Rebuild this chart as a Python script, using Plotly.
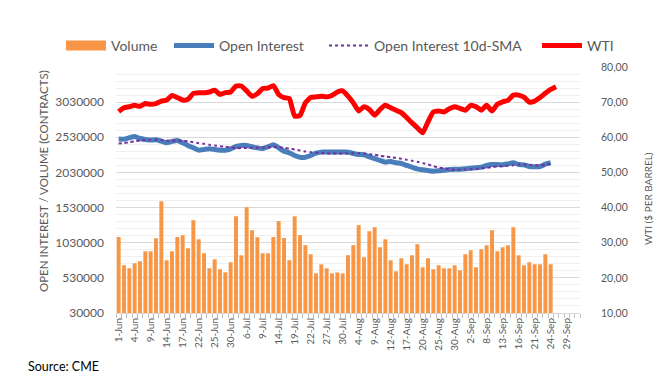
import plotly.graph_objects as go

# Trading days (category axis)
jun = [1, 2, 3, 4, 7, 8, 9, 10, 11, 14, 15, 16, 17, 18, 21, 22, 23, 24, 25, 28, 29, 30]
jul = [1, 2, 6, 7, 8, 9, 12, 13, 14, 15, 16, 19, 20, 21, 22, 23, 26, 27, 28, 29, 30]
aug = [2, 3, 4, 5, 6, 9, 10, 11, 12, 13, 16, 17, 18, 19, 20, 23, 24, 25, 26, 27, 30, 31]
sep = [1, 2, 3, 7, 8, 9, 10, 13, 14, 15, 16, 17, 20, 21, 22, 23, 24, 27, 28, 29, 30]
octo = [1]
dates = ([f"{d}-Jun" for d in jun] + [f"{d}-Jul" for d in jul] + [f"{d}-Aug" for d in aug]
         + [f"{d}-Sep" for d in sep] + [f"{d}-Oct" for d in octo])

volume_k = [1112, 709, 666, 737, 766, 908, 908, 1093, 1620, 780, 908, 1112, 1136, 951, 1350,
            1079, 880, 666, 794, 652, 609, 752, 1407, 851, 1535, 1207, 1108, 880, 880, 1110,
            1338, 1097, 781, 1406, 1138, 995, 865, 594, 722, 667, 594, 607, 594, 852, 995,
            1280, 823, 1193, 1250, 965, 1079, 780, 623, 809, 723, 851, 1008, 680, 809, 652,
            709, 666, 666, 709, 638, 866, 923, 680, 937, 994, 1207, 908, 965, 994, 1250,
            851, 709, 752, 723, 723, 866, 723]

open_interest_k = [2504, 2504, 2523, 2542, 2513, 2499, 2490, 2494, 2475, 2452, 2471, 2485, 2452,
                   2414, 2380, 2347, 2357, 2366, 2357, 2347, 2347, 2366, 2399, 2414, 2414, 2395,
                   2380, 2371, 2395, 2423, 2380, 2333, 2309, 2271, 2247, 2247, 2271, 2304, 2319,
                   2319, 2319, 2319, 2319, 2319, 2300, 2285, 2281, 2252, 2228, 2200, 2176, 2186,
                   2167, 2157, 2129, 2105, 2081, 2067, 2057, 2048, 2053, 2062, 2072, 2076, 2076,
                   2081, 2091, 2095, 2105, 2129, 2143, 2143, 2138, 2152, 2167, 2143, 2138, 2114,
                   2110, 2114, 2148, 2167]

oi_sma_k = [2442, 2447, 2461, 2471, 2485, 2490, 2494, 2494, 2490, 2485, 2480, 2480, 2480, 2471,
            2461, 2447, 2437, 2423, 2414, 2404, 2395, 2385, 2376, 2376, 2376, 2380, 2380, 2385,
            2390, 2399, 2390, 2380, 2366, 2357, 2342, 2328, 2319, 2309, 2304, 2300, 2300, 2300,
            2300, 2300, 2304, 2304, 2300, 2290, 2281, 2266, 2257, 2247, 2238, 2224, 2209, 2195,
            2181, 2162, 2143, 2119, 2100, 2086, 2076, 2067, 2067, 2072, 2076, 2081, 2091, 2095,
            2105, 2114, 2119, 2124, 2133, 2143, 2143, 2138, 2133, 2129, 2138, 2157]

wti = [67.3, 68.4, 68.7, 69.1, 68.8, 69.6, 69.4, 69.6, 70.3, 70.6, 71.9, 71.3, 70.6, 70.8, 72.5,
       72.7, 72.7, 72.9, 73.4, 72.2, 72.7, 72.9, 74.6, 74.6, 73.2, 71.7, 72.4, 73.9, 74.0, 74.7,
       72.2, 71.3, 71.0, 66.0, 66.2, 69.8, 71.3, 71.5, 71.7, 71.5, 71.9, 72.9, 73.2, 71.7, 69.8,
       67.5, 68.7, 67.9, 66.3, 67.9, 69.1, 68.4, 67.7, 67.0, 65.6, 64.1, 62.7, 61.3, 64.4, 67.2,
       67.5, 67.2, 68.1, 68.7, 68.2, 67.7, 69.1, 68.7, 67.7, 69.1, 67.5, 69.4, 70.1, 70.5, 72.0,
       72.0, 71.4, 70.0, 70.3, 71.3, 72.5, 73.6, 74.4]

left_ticks = [30000, 530000, 1030000, 1530000, 2030000, 2530000, 3030000]

idx = list(range(len(dates)))
volume = [v * 1000 for v in volume_k]
oi = [v * 1000 for v in open_interest_k]
sma = [v * 1000 for v in oi_sma_k]

FONT = "Lato"
GREY = "#595959"
ORANGE = "#F79646"

# plot area geometry (pixels)
W, H = 664, 389
L, R, T, B = 108, 92, 59, 84
PW = W - L - R
PH = H - T - B


def px_x(p):
    return (p - L) / PW


def px_y(p):
    return (H - B - p) / PH


fig = go.Figure()
fig.add_trace(go.Bar(x=idx[:len(volume)], y=volume, name="Volume", showlegend=False,
                     marker=dict(color=ORANGE, line=dict(width=0)), width=0.74))
# legend entry for volume (wide rectangle swatch)
fig.add_trace(go.Scatter(x=[None], y=[None], name="Volume", mode="lines", legend="legend",
                         line=dict(color=ORANGE, width=10)))
fig.add_trace(go.Scatter(x=idx[:len(oi)], y=oi, name="Open Interest", mode="lines", legend="legend2",
                         line=dict(color="#4A7EBB", width=5, shape="spline", smoothing=0.5)))
fig.add_trace(go.Scatter(x=idx[:len(sma)], y=sma, name="Open Interest 10d-SMA", mode="lines",
                         legend="legend3",
                         line=dict(color="#7030A0", width=2, dash="dot", shape="spline", smoothing=0.5)))
fig.add_trace(go.Scatter(x=idx[:len(wti)], y=wti, name="WTI", mode="lines", yaxis="y2",
                         legend="legend4",
                         line=dict(color="#FF0000", width=5, shape="spline", smoothing=0.5)))

leg_y = px_y(38)
leg_common = dict(orientation="h", xanchor="left", yanchor="middle", y=leg_y,
                  font=dict(size=14, color=GREY, family=FONT), itemwidth=40,
                  bgcolor="rgba(0,0,0,0)")

tickidx = idx[::3]
fig.update_layout(
    width=W, height=H,
    margin=dict(l=L, r=R, t=T, b=B, autoexpand=False),
    paper_bgcolor="white", plot_bgcolor="white",
    font=dict(family=FONT, color=GREY, size=11),
    separators=",.",
    bargap=0.26,
    showlegend=True,
    legend=dict(x=px_x(111 - 58), **leg_common),
    legend2=dict(x=px_x(219 - 58), **leg_common),
    legend3=dict(x=px_x(374 - 58), **leg_common),
    legend4=dict(x=px_x(587 - 58), **leg_common),
    xaxis=dict(range=[-0.5, len(dates) - 0.5], tickmode="array", tickvals=tickidx,
               ticktext=[dates[i] for i in tickidx], tickangle=-90, automargin=False,
               tickfont=dict(size=10, color=GREY), ticks="", showgrid=False, zeroline=False,
               showline=True, linecolor="#D9D9D9", linewidth=1,
               minor=dict(ticks="outside", tick0=-0.5, dtick=1, ticklen=4, tickcolor="#BFBFBF",
                          showgrid=False)),
    yaxis=dict(range=[30000, 3530000], tickmode="array", tickvals=left_ticks, tickformat="d",
               showgrid=True, gridcolor="#D9D9D9", gridwidth=1, zeroline=False, automargin=False,
               tickfont=dict(size=12, color=GREY), ticklabelstandoff=11,
               minor=dict(tick0=30000, dtick=100000, showgrid=True, gridcolor="#F0F0F0", gridwidth=1)),
    yaxis2=dict(range=[10, 80], dtick=10, tickformat=".2f", overlaying="y", side="right",
                showgrid=False, zeroline=False, automargin=False, ticklabelstandoff=20,
                tickfont=dict(size=10.5, color=GREY)),
)
fig.add_annotation(text="OPEN INTEREST / VOLUME (CONTRACTS)", xref="paper", yref="paper",
                   x=px_x(35), y=px_y(173), textangle=-90, showarrow=False,
                   xanchor="center", yanchor="middle", font=dict(size=11.5, color=GREY, family=FONT))
fig.add_annotation(text="WTI ($ PER BARREL)", xref="paper", yref="paper",
                   x=px_x(640), y=px_y(191), textangle=-90, showarrow=False,
                   xanchor="center", yanchor="middle", font=dict(size=10, color=GREY, family=FONT))
fig.add_annotation(text="Source: CME", xref="paper", yref="paper", x=px_x(18), y=px_y(358),
                   xanchor="left", yanchor="middle", showarrow=False,
                   font=dict(size=12.5, color="#000000", family=FONT))

fig.write_html("out.html")
